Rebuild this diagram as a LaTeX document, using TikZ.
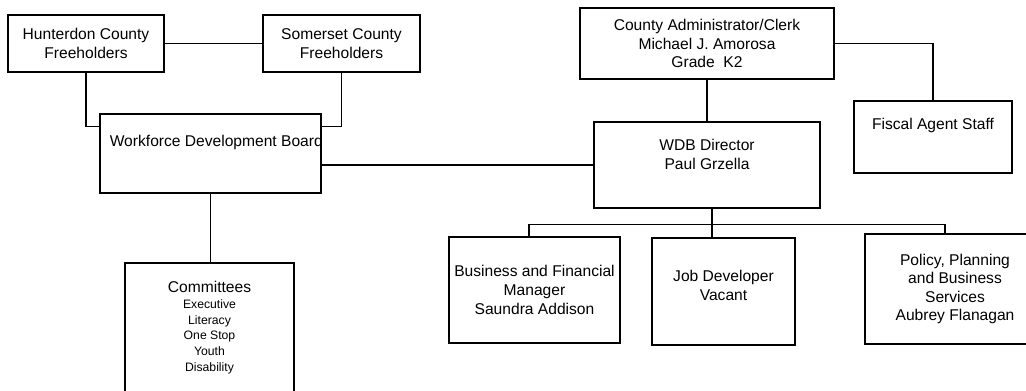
\documentclass[tikz,border=0pt]{standalone}
\usepackage{fontspec}
\setmainfont{Liberation Sans}
\usetikzlibrary{calc}

\newcommand{\cmtfont}{\fontsize{12.2}{15}\selectfont}

\begin{document}
\begin{tikzpicture}[x=1pt, y=-1pt,
    box/.style={draw, line width=1.5pt, align=center, inner sep=0pt,
      font=\fontsize{15.6}{18.6}\selectfont},
    bigbox/.style={box, line width=2.8pt},
    txt/.style={align=center, inner sep=0pt, font=\fontsize{15.6}{18.6}\selectfont},
    link/.style={line width=1.5pt},
    biglink/.style={line width=2.8pt}]
  \useasboundingbox (0,0) rectangle (1026,391);

  % Draw the freeholders and the board
  \node[box, minimum width=156, minimum height=57] (hunt) at (86,43.5) {Hunterdon County\\Freeholders};
  \node[box, minimum width=157, minimum height=57] (som) at (341.5,43.5) {Somerset County\\Freeholders};
  \node[bigbox, minimum width=221, minimum height=79] (wdb) at (210.5,153.5) {};
  \node[txt, anchor=west] (wdbtext) at ($(wdb.north west)+(11,30)$) {Workforce Development Board};

  % Draw the committees
  \node[box, minimum width=169, minimum height=137] (comm) at (209.5,331.5) {};
  \node[txt] (commtext) at ($(comm.north)+(0,65)$) {Committees\\[-2pt]\cmtfont Executive\\[-3pt]\cmtfont Literacy\\[-3pt]\cmtfont One Stop\\[-3pt]\cmtfont Youth\\[-3pt]\cmtfont Disability};

  % Draw the county side
  \node[box, minimum width=254, minimum height=71] (admin) at (707,43.5) {County Administrator/Clerk\\Michael J. Amorosa\\Grade~~K2};
  \node[box, minimum width=158, minimum height=72] (fiscal) at (933,137) {};
  \node[txt] (fiscaltext) at ($(fiscal.north)+(0,25)$) {Fiscal Agent Staff};
  \node[bigbox, minimum width=226, minimum height=86] (dir) at (707,165) {};
  \node[txt] (dirtext) at ($(dir.north)+(0,34)$) {WDB Director\\Paul Grzella};

  % Draw the staff
  \node[box, minimum width=171, minimum height=106] (bus) at (534.5,290) {Business and Financial\\Manager\\Saundra Addison};
  \node[box, minimum width=143, minimum height=107] (job) at (723.5,291.5) {};
  \node[txt] (jobtext) at ($(job.north)+(0,48)$) {Job Developer\\Vacant};
  \node[box, minimum width=180, minimum height=110] (pol) at (955,289) {Policy, Planning\\and Business\\Services\\Aubrey Flanagan};

  % Connect the boxes
  \draw[link] (hunt.east) -- (som.west);
  \draw[link] (hunt.south) |- ($(wdb.north west)+(0,14)$);
  \draw[link] (som.south) |- ($(wdb.north east)+(0,14)$);
  \draw[link] (wdb.south) -- (wdb.south |- comm.north);
  \draw[link] (dir.west) -- (dir.west -| wdb.east);
  \draw[link] (admin.south) -- (dir.north);
  \draw[link] (admin.east) -| (fiscal.north);

  % Connect the staff to the director
  \coordinate (drop) at ([xshift=5]dir.south);
  \coordinate (bar) at ($(dir.south)+(0,15)$);
  \coordinate (busin) at ([xshift=-5.5]bus.north);
  \coordinate (polin) at ([xshift=-10]pol.north);
  \draw[biglink] (drop) -- (drop |- job.north);
  \draw[link] (busin) |- (polin |- bar);
  \draw[biglink] (polin |- bar) -- (polin);
\end{tikzpicture}
\end{document}
